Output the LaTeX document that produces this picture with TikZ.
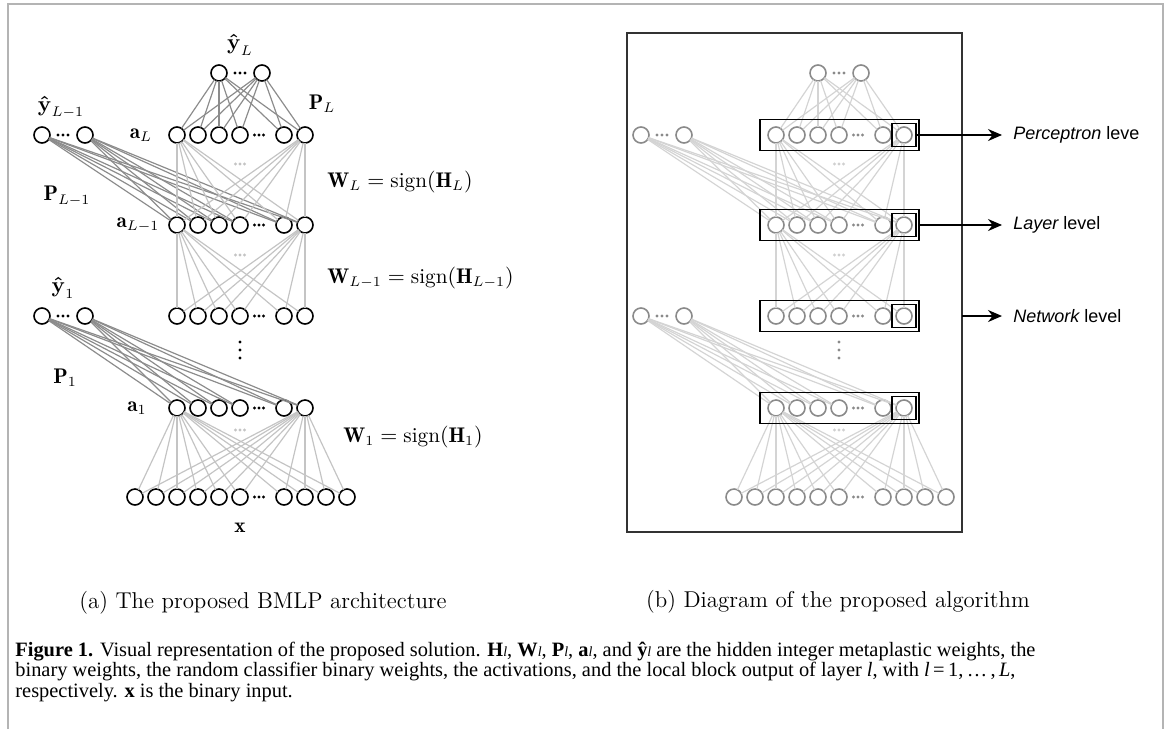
\documentclass[tikz,border=0pt]{standalone}
\usepackage{amsmath}
\usepackage{fontspec}
\usetikzlibrary{arrows.meta}
\newfontfamily\labelsans{Liberation Sans}
\newfontfamily\capserif{Liberation Serif}
\definecolor{framegray}{HTML}{B4B4B4}
\definecolor{Pgray}{HTML}{8C8C8C}
\definecolor{Wgray}{HTML}{C4C4C4}
\definecolor{Rcirc}{HTML}{8A8A8A}
\definecolor{Rline}{HTML}{D4D4D4}
\definecolor{Rdots}{HTML}{D0D0D0}
\tikzset{
  Lneuron/.style={circle, draw=black, fill=white, line width=0.8pt, minimum size=8pt, inner sep=0pt, outer sep=0pt},
  Rneuron/.style={circle, draw=Rcirc, fill=white, line width=0.8pt, minimum size=8pt, inner sep=0pt, outer sep=0pt},
  LPline/.style={draw=Pgray, line width=0.6pt},
  LWline/.style={draw=Wgray, line width=0.6pt},
  RPline/.style={draw=Rline, line width=0.6pt},
  RWline/.style={draw=Rline, line width=0.6pt},
  Lrowdot/.style={fill=black},
  Rrowdot/.style={fill=Rcirc},
  Lmiddot/.style={fill=Wgray},
  Rmiddot/.style={fill=Rdots},
  mathlabel/.style={inner sep=0pt, font=\fontsize{10.6}{12}\selectfont},
  layerbox/.style={draw=black, line width=0.8pt, minimum width=79.5pt, minimum height=15.5pt, inner sep=0pt, outer sep=0pt},
  unitbox/.style={draw=black, line width=0.8pt, minimum width=12pt, minimum height=11.5pt, inner sep=0pt, outer sep=0pt},
  levelarrow/.style={draw=black, line width=0.75pt, -{Stealth[length=7pt, width=6pt]}},
  leveltext/.style={anchor=west, inner sep=0pt, font=\labelsans\fontsize{9}{11}\selectfont},
  subcap/.style={inner sep=0pt, font=\fontsize{11.45}{14}\selectfont},
  figcap/.style={anchor=west, inner sep=0pt, font=\capserif\fontsize{10.2}{12}\selectfont}
}
% three small dots centred at a point
\newcommand\threedots[4]{% style, x, y, step
  \fill[#1] (#2-#4,#3) circle (0.8pt);
  \fill[#1] (#2,#3) circle (0.8pt);
  \fill[#1] (#2+#4,#3) circle (0.8pt);
}
% the network, #1 = prefix (L or R), #2 = horizontal offset
\newcommand\drawnet[2]{%
  % output nodes
  \node[#1neuron] (#1yL1) at (219+#2,73) {};
  \node[#1neuron] (#1yL2) at (262+#2,73) {};
  \threedots{#1rowdot}{240+#2}{73}{5}
  \node[#1neuron] (#1yM1) at (42+#2,135) {};
  \node[#1neuron] (#1yM2) at (85+#2,135) {};
  \threedots{#1rowdot}{63+#2}{135}{5}
  \node[#1neuron] (#1yO1) at (42+#2,316) {};
  \node[#1neuron] (#1yO2) at (85+#2,316) {};
  \threedots{#1rowdot}{63+#2}{316}{5}
  % hidden rows
  \foreach \rw/\yy in {aL/135, aM/225, aT/316, aO/408}{
    \foreach \i/\xx in {1/177,2/198,3/219,4/240,5/284,6/305}{
      \node[#1neuron] (#1\rw\i) at (\xx+#2,\yy) {};
    }
    \threedots{#1rowdot}{259+#2}{\yy}{4.5}
  }
  % input row
  \foreach \i/\xx in {1/135,2/156,3/177,4/198,5/219,6/240,7/284,8/305,9/326,10/347}{
    \node[#1neuron] (#1x\i) at (\xx+#2,497) {};
  }
  \threedots{#1rowdot}{259+#2}{497}{4.5}
  % classifier connections
  \foreach \j in {1,2}{
    \foreach \i in {1,...,6}{
      \draw[#1Pline] (#1yL\j) -- (#1aL\i);
      \draw[#1Pline] (#1yM\j) -- (#1aM\i);
      \draw[#1Pline] (#1yO\j) -- (#1aO\i);
    }
  }
  % binary weights
  \foreach \j in {1,6}{
    \foreach \i in {1,...,6}{
      \draw[#1Wline] (#1aL\j) -- (#1aM\i);
      \draw[#1Wline] (#1aM\j) -- (#1aT\i);
    }
    \foreach \i in {1,...,10}{
      \draw[#1Wline] (#1aO\j) -- (#1x\i);
    }
  }
  \threedots{#1middot}{240+#2}{164}{4.5}
  \threedots{#1middot}{240+#2}{255}{4.5}
  \threedots{#1middot}{240+#2}{430}{4.5}
  % vertical ellipsis
  \fill[#1rowdot] (240+#2,342) circle (0.8pt);
  \fill[#1rowdot] (240+#2,350) circle (0.8pt);
  \fill[#1rowdot] (240+#2,358) circle (0.8pt);
}
\begin{document}
\begin{tikzpicture}[x=0.5pt, y=-0.5pt]
\useasboundingbox (0,0) rectangle (1170,729);
% page frame
\draw[framegray, line width=0.8pt] (8,729) -- (8,4) -- (1163,4) -- (1163,729);

% ---------------- (a) ----------------
\drawnet{L}{0}
\node[mathlabel] (lyL) at (240,45) {$\boldsymbol{\hat{\mathbf{y}}}_L$};
\node[mathlabel] (lyM) at (61,107) {$\boldsymbol{\hat{\mathbf{y}}}_{L-1}$};
\node[mathlabel] (lyO) at (63,288) {$\boldsymbol{\hat{\mathbf{y}}}_1$};
\node[mathlabel] (lPL) at (322,104) {$\mathbf{P}_L$};
\node[mathlabel] (lPM) at (67,196) {$\mathbf{P}_{L-1}$};
\node[mathlabel] (lPO) at (65,378) {$\mathbf{P}_1$};
\node[mathlabel] (laL) at (141,135) {$\mathbf{a}_L$};
\node[mathlabel] (laM) at (138,225) {$\mathbf{a}_{L-1}$};
\node[mathlabel] (laO) at (137,408) {$\mathbf{a}_1$};
\node[mathlabel, anchor=west] (lWL) at (327,182) {$\mathbf{W}_L=\operatorname{sign}(\mathbf{H}_L)$};
\node[mathlabel, anchor=west] (lWM) at (327,278) {$\mathbf{W}_{L-1}=\operatorname{sign}(\mathbf{H}_{L-1})$};
\node[mathlabel, anchor=west] (lWO) at (343,437) {$\mathbf{W}_1=\operatorname{sign}(\mathbf{H}_1)$};
\node[mathlabel] (lx) at (240,528) {$\mathbf{x}$};

% ---------------- (b) ----------------
\node[draw=black!80, line width=0.8pt, minimum width=167.5pt, minimum height=249.5pt, inner sep=0pt, outer sep=0pt] (Rframe) at (794.5,282.5) {};
\drawnet{R}{599}
\foreach \rw/\yy in {aL/135, aM/225, aT/316, aO/408}{
  \node[layerbox] (Rbox\rw) at (839.5,\yy) {};
  \node[unitbox] (Rubox\rw) at (904,\yy) {};
}
\coordinate (tipP) at (1002,135);
\coordinate (tipL) at (1002,225);
\coordinate (tipN) at (1002,316);
\draw[levelarrow] (RuboxaL.east) -- (tipP);
\draw[levelarrow] (RboxaM.east) -- (tipL);
\draw[levelarrow] (Rframe.east |- tipN) -- (tipN);
\node[leveltext] (tP) at (1013,135) {\itshape Perceptron\upshape\ leve};
\node[leveltext] (tL) at (1013,225) {\itshape Layer\upshape\ level};
\node[leveltext] (tN) at (1013,316) {\itshape Network\upshape\ level};

% ---------------- captions ----------------
\node[subcap] (capa) at (263,603) {(a) The proposed BMLP architecture};
\node[subcap] (capb) at (838,602) {(b) Diagram of the proposed algorithm};
\node[figcap] (fc1) at (15,652) {\textbf{Figure 1.} Visual representation of the proposed solution. \textbf{H}\textit{\scriptsize l}, \textbf{W}\textit{\scriptsize l}, \textbf{P}\textit{\scriptsize l}, \textbf{a}\textit{\scriptsize l}, and \textbf{\^y}\textit{\scriptsize l} are the hidden integer metaplastic weights, the};
\node[figcap] (fc2) at (15,672) {binary weights, the random classifier binary weights, the activations, and the local block output of layer \textit{l}, with \textit{l}\,=\,1,\,\dots\,,\,\textit{L},};
\node[figcap] (fc3) at (15,693) {respectively. \textbf{x} is the binary input.};
\end{tikzpicture}
\end{document}
